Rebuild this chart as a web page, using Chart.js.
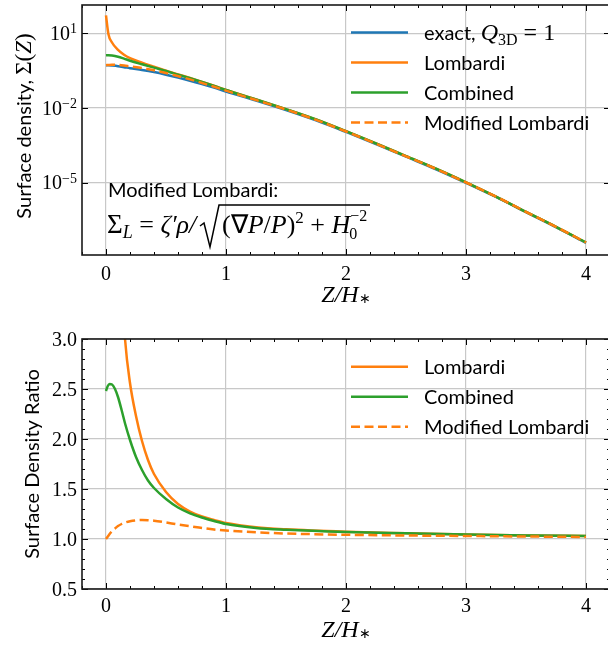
<!DOCTYPE html>
<html>
<head>
<meta charset="utf-8">
<script src="https://cdn.jsdelivr.net/npm/chart.js@4.4.1/dist/chart.umd.min.js"></script>
<style>
  body { margin: 0; width: 608px; height: 646px; overflow: hidden; background: #fff; position: relative; }
  canvas { position: absolute; left: 0; }
  #top { top: 0; }
  #bottom { top: 320px; }
</style>
</head>
<body>
<canvas id="top" width="612" height="320"></canvas>
<canvas id="bottom" width="612" height="326"></canvas>
<script>
// ---- data ----
const zTop = [0, 0.02, 0.05, 0.1, 0.15, 0.2, 0.3, 0.4, 0.5, 0.6, 0.7, 0.8, 0.9, 1.0,
  1.25, 1.5, 1.75, 2.0, 2.25, 2.5, 2.75, 3.0, 3.25, 3.5, 3.75, 4.0];
const sigmaExact = [0.53, 0.525, 0.51, 0.48, 0.44, 0.40, 0.34, 0.28, 0.22, 0.168, 0.126, 0.092, 0.066, 0.046,
  0.020, 8.3e-3, 3.2e-3, 1.1e-3, 3.6e-4, 1.12e-4, 3.5e-5, 1.0e-5, 2.7e-6, 6.6e-7, 1.66e-7, 3.9e-8];
const sigmaLombardi = [53, 9.5, 4.3, 2.16, 1.39, 1.02, 0.67, 0.46, 0.32, 0.227, 0.161, 0.113, 0.0785, 0.0534,
  0.0224, 9.1e-3, 3.5e-3, 1.18e-3, 3.8e-4, 1.18e-4, 3.7e-5, 1.05e-5, 2.8e-6, 6.8e-7, 1.7e-7, 4.0e-8];
const sigmaCombined = [1.31, 1.33, 1.30, 1.16, 0.97, 0.80, 0.575, 0.42, 0.31, 0.22, 0.158, 0.112, 0.078, 0.053,
  0.0222, 9.06e-3, 3.5e-3, 1.18e-3, 3.8e-4, 1.18e-4, 3.7e-5, 1.05e-5, 2.8e-6, 6.8e-7, 1.7e-7, 4.0e-8];
const sigmaModified = [0.53, 0.54, 0.55, 0.54, 0.51, 0.47, 0.405, 0.33, 0.256, 0.192, 0.142, 0.102, 0.072, 0.050,
  0.021, 8.8e-3, 3.35e-3, 1.15e-3, 3.7e-4, 1.16e-4, 3.6e-5, 1.03e-5, 2.8e-6, 6.8e-7, 1.7e-7, 4.0e-8];

const zRatio = [0, 0.015, 0.03, 0.05, 0.075, 0.1, 0.13, 0.16, 0.2, 0.25, 0.3, 0.35, 0.4, 0.5,
  0.6, 0.7, 0.8, 0.9, 1.0, 1.25, 1.5, 2.0, 2.5, 3.0, 3.5, 4.0];
const ratioLombardi = [100, 22, 12, 8, 5.6, 4.5, 3.6, 2.98, 2.56, 2.23, 1.98, 1.79, 1.65, 1.47,
  1.35, 1.275, 1.225, 1.19, 1.16, 1.118, 1.097, 1.073, 1.058, 1.045, 1.036, 1.03];
const ratioCombined = [2.48, 2.53, 2.55, 2.545, 2.50, 2.42, 2.29, 2.15, 1.99, 1.82, 1.69, 1.585, 1.51, 1.40,
  1.315, 1.257, 1.215, 1.18, 1.15, 1.11, 1.092, 1.07, 1.057, 1.045, 1.036, 1.03];
const ratioModified = [1.0, 1.025, 1.05, 1.08, 1.105, 1.13, 1.15, 1.165, 1.178, 1.187, 1.19, 1.188, 1.183, 1.165,
  1.145, 1.128, 1.11, 1.095, 1.085, 1.067, 1.055, 1.042, 1.035, 1.03, 1.025, 1.02];

const xTicks = [0, 1, 2, 3, 4];
const yTopTicks = [1e1, 1e-2, 1e-5];
const yTopExp = ['1', '\u22122', '\u22125'];
const yBotTicks = [0.5, 1.0, 1.5, 2.0, 2.5, 3.0];
const yBotLabels = ['0.5', '1.0', '1.5', '2.0', '2.5', '3.0'];

const BLUE = '#1f77b4', ORANGE = '#ff7f0e', GREEN = '#2ca02c';
const SERIF = '"Liberation Serif", serif';
const SANS = 'Lato, sans-serif';
const DASH = [9, 4.5];

function pts(xs, ys) { return xs.map((x, i) => ({ x: x, y: ys[i] })); }

function lineDs(label, xs, ys, color, dash, order) {
  return {
    label: label, data: pts(xs, ys), borderColor: color, borderWidth: 2.5,
    borderDash: dash || [], pointRadius: 0, fill: false,
    cubicInterpolationMode: 'monotone', clip: 0, order: order
  };
}

// draw a run of text pieces: [text, font, dy]
function drawRich(ctx, x, y, parts, align) {
  let w = 0;
  parts.forEach(p => { ctx.font = p[1]; w += ctx.measureText(p[0]).width; });
  let cx = align === 'center' ? x - w / 2 : align === 'right' ? x - w : x;
  ctx.textAlign = 'left';
  ctx.textBaseline = 'alphabetic';
  parts.forEach(p => {
    ctx.font = p[1];
    ctx.fillText(p[0], cx, y + (p[2] || 0));
    cx += ctx.measureText(p[0]).width;
  });
  return w;
}

function drawFrame(chart, yMajor, yMinor) {
  const { ctx, chartArea: a, scales: { x, y } } = chart;
  ctx.save();
  ctx.strokeStyle = '#000';
  ctx.lineWidth = 1;
  const tick = (px, py, dx, dy) => {
    ctx.beginPath(); ctx.moveTo(px, py); ctx.lineTo(px + dx, py + dy); ctx.stroke();
  };
  for (let i = -1; i <= 21; i++) {
    const v = i * 0.2;
    const p = Math.round(x.getPixelForValue(v)) + 0.5;
    const L = i % 5 === 0 ? 6 : 3;
    tick(p, a.bottom, 0, -L);
    tick(p, a.top, 0, L);
  }
  yMinor.forEach(v => {
    const p = Math.round(y.getPixelForValue(v)) + 0.5;
    tick(a.left, p, 3, 0); tick(a.right, p, -3, 0);
  });
  yMajor.forEach(v => {
    const p = Math.round(y.getPixelForValue(v)) + 0.5;
    tick(a.left, p, 6, 0); tick(a.right, p, -6, 0);
  });
  ctx.lineWidth = 1.6;
  ctx.strokeStyle = '#1a1a1a';
  ctx.strokeRect(a.left, a.top, a.right - a.left, a.bottom - a.top);
  ctx.restore();
}

function drawXLabels(chart, baseY, titleY) {
  const { ctx, scales: { x } } = chart;
  ctx.save();
  ctx.fillStyle = '#000';
  xTicks.forEach(v => drawRich(ctx, x.getPixelForValue(v), baseY, [[String(v), '20px ' + SERIF]], 'center'));
  drawRich(ctx, x.getPixelForValue(2), titleY, [
    ['Z/H', 'italic 24px ' + SERIF], ['\u2217', '14px ' + SERIF, 1]
  ], 'center');
  ctx.restore();
}

function drawLegend(chart, labels, yFirst) {
  const ctx = chart.ctx;
  ctx.save();
  chart.data.datasets.forEach((ds, i) => {
    const yy = yFirst + i * 30;
    ctx.save();
    ctx.strokeStyle = ds.borderColor;
    ctx.lineWidth = 2.5;
    ctx.setLineDash(ds.borderDash);
    ctx.beginPath(); ctx.moveTo(351, yy); ctx.lineTo(408, yy); ctx.stroke();
    ctx.restore();
    ctx.fillStyle = '#000';
    drawRich(ctx, 424, yy + 7.5, labels[i], 'left');
  });
  ctx.restore();
}

const gridOpts = { color: '#c8c8c8', lineWidth: 1.2, drawTicks: false };

// ---- top chart: surface density ----
const topLegend = [
  [['exact, ', '20px ' + SANS], ['Q', 'italic 24px ' + SERIF], ['3D', '16px ' + SERIF, 5], [' = 1', '24px ' + SERIF]],
  [['Lombardi', '20px ' + SANS]],
  [['Combined', '20px ' + SANS]],
  [['Modified Lombardi', '20px ' + SANS]]
];

const topPlugin = {
  id: 'topDecor',
  beforeDatasetsDraw(chart) {
    const ctx = chart.ctx;
    ctx.save();
    ctx.fillStyle = '#000';
    drawRich(ctx, 108, 197, [['Modified Lombardi:', '20px ' + SANS]], 'left');
    // formula
    const it = 'italic 26px ' + SERIF, rm = '26px ' + SERIF;
    const by = 233;
    drawRich(ctx, 107, by, [['\u03A3', '27px ' + SERIF], ['L', 'italic 18px ' + SERIF, 5], [' = ', rm], ['\u03B6\u2032\u03C1/', it]], 'left');
    // radical sign
    ctx.strokeStyle = '#000';
    ctx.lineWidth = 1.5;
    ctx.beginPath();
    ctx.moveTo(200, by - 7);
    ctx.lineTo(204, by - 10);
    ctx.lineTo(210, by + 14);
    ctx.lineTo(219, by - 28);
    ctx.lineTo(370, by - 28);
    ctx.stroke();
    const fit = 'italic 26px ' + SERIF, frm = '26px ' + SERIF;
    let cx = 222;
    cx += drawRich(ctx, cx, by, [['(\u2207', frm], ['P', fit], ['/', frm], ['P', fit], [')', frm],
      ['2', '17px ' + SERIF, -10], [' + ', frm], ['H', fit]], 'left');
    ctx.font = '16px ' + SERIF;
    ctx.fillText('0', cx - 1, by + 6);
    ctx.fillText('\u22122', cx, by - 12);
    // y tick labels
    const y = chart.scales.y;
    yTopTicks.forEach((v, i) => {
      const p = y.getPixelForValue(v);
      ctx.font = '14px ' + SERIF;
      const ew = ctx.measureText(yTopExp[i]).width;
      ctx.fillText(yTopExp[i], 77 - ew, p);
      drawRich(ctx, 77 - ew, p + 6.5, [['10', '20px ' + SERIF]], 'right');
    });
    // y title
    ctx.translate(24, 126);
    ctx.rotate(-Math.PI / 2);
    drawRich(ctx, 0, 7, [['Surface density, ', '20px ' + SANS], ['\u03A3(', '23px ' + SERIF],
      ['Z', 'italic 23px ' + SERIF], [')', '23px ' + SERIF]], 'center');
    ctx.restore();
  },
  afterDatasetsDraw(chart) {
    drawFrame(chart, yTopTicks, []);
    drawXLabels(chart, 280, 302);
    drawLegend(chart, topLegend, 32.5);
  }
};

new Chart(document.getElementById('top'), {
  type: 'line',
  data: {
    datasets: [
      lineDs('exact', zTop, sigmaExact, BLUE, [], 4),
      lineDs('Lombardi', zTop, sigmaLombardi, ORANGE, [], 3),
      lineDs('Combined', zTop, sigmaCombined, GREEN, [], 2),
      lineDs('Modified Lombardi', zTop, sigmaModified, ORANGE, DASH, 1)
    ]
  },
  options: {
    responsive: false,
    animation: false,
    events: [],
    layout: { padding: { left: 0, right: 2, top: 5, bottom: 0 } },
    plugins: { legend: { display: false }, tooltip: { enabled: false } },
    scales: {
      x: {
        type: 'linear', min: -0.2, max: 4.2,
        afterBuildTicks: s => { s.ticks = xTicks.map(v => ({ value: v })); },
        afterFit: s => { s.height = 65; },
        ticks: { display: false }, grid: gridOpts, border: { display: false }
      },
      y: {
        type: 'logarithmic', min: Math.pow(10, -7.9), max: Math.pow(10, 2.14),
        afterBuildTicks: s => { s.ticks = yTopTicks.map(v => ({ value: v })); },
        afterFit: s => { s.width = 82; },
        ticks: { display: false }, grid: gridOpts, border: { display: false }
      }
    }
  },
  plugins: [topPlugin]
});

// ---- bottom chart: ratio ----
const botLegend = [
  [['Lombardi', '20px ' + SANS]],
  [['Combined', '20px ' + SANS]],
  [['Modified Lombardi', '20px ' + SANS]]
];

const yBotMinor = [];
for (let i = 5; i <= 30; i++) yBotMinor.push(i / 10);

const botPlugin = {
  id: 'botDecor',
  beforeDatasetsDraw(chart) {
    const ctx = chart.ctx;
    const y = chart.scales.y;
    ctx.save();
    ctx.fillStyle = '#000';
    yBotTicks.forEach((v, i) => {
      drawRich(ctx, 77, y.getPixelForValue(v) + 6.5, [[yBotLabels[i], '20px ' + SERIF]], 'right');
    });
    ctx.translate(32, 144);
    ctx.rotate(-Math.PI / 2);
    drawRich(ctx, 0, 7, [['Surface Density Ratio', '20px ' + SANS]], 'center');
    ctx.restore();
  },
  afterDatasetsDraw(chart) {
    drawFrame(chart, yBotTicks, yBotMinor);
    drawXLabels(chart, 292, 317);
    drawLegend(chart, botLegend, 46.7);
  }
};

new Chart(document.getElementById('bottom'), {
  type: 'line',
  data: {
    datasets: [
      lineDs('Lombardi', zRatio, ratioLombardi, ORANGE, [], 3),
      lineDs('Combined', zRatio, ratioCombined, GREEN, [], 2),
      lineDs('Modified Lombardi', zRatio, ratioModified, ORANGE, DASH, 1)
    ]
  },
  options: {
    responsive: false,
    animation: false,
    events: [],
    layout: { padding: { left: 0, right: 2, top: 19, bottom: 0 } },
    plugins: { legend: { display: false }, tooltip: { enabled: false } },
    scales: {
      x: {
        type: 'linear', min: -0.2, max: 4.2,
        afterBuildTicks: s => { s.ticks = xTicks.map(v => ({ value: v })); },
        afterFit: s => { s.height = 57; },
        ticks: { display: false }, grid: gridOpts, border: { display: false }
      },
      y: {
        type: 'linear', min: 0.5, max: 3.0,
        afterBuildTicks: s => { s.ticks = yBotTicks.map(v => ({ value: v })); },
        afterFit: s => { s.width = 82; },
        ticks: { display: false }, grid: gridOpts, border: { display: false }
      }
    }
  },
  plugins: [botPlugin]
});
</script>
</body>
</html>
